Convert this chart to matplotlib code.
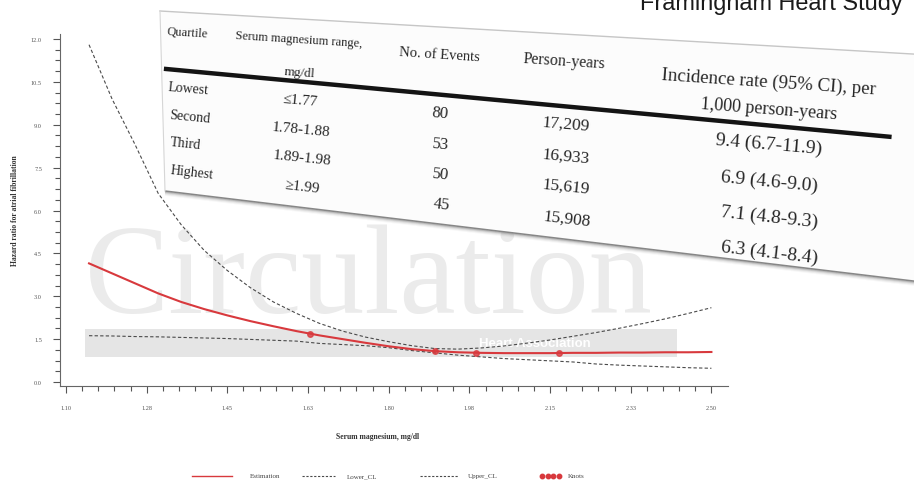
import numpy as np
import matplotlib
matplotlib.use("Agg")
import matplotlib.pyplot as plt
from matplotlib.patches import Polygon, Rectangle
from matplotlib.ticker import FixedLocator, MultipleLocator

# Spline estimate of the hazard ratio for atrial fibrillation by serum magnesium
mg = [1.15, 1.20, 1.25, 1.30, 1.35, 1.40, 1.45, 1.50, 1.55, 1.60, 1.65, 1.70, 1.75,
      1.80, 1.85, 1.90, 1.95, 2.00, 2.05, 2.10, 2.15, 2.20, 2.25, 2.30, 2.35, 2.40,
      2.45, 2.50]
hr_est = [4.15, 3.80, 3.45, 3.10, 2.80, 2.55, 2.33, 2.13, 1.95, 1.78, 1.63, 1.50, 1.37,
          1.25, 1.15, 1.08, 1.04, 1.02, 1.01, 1.01, 1.01, 1.02, 1.02, 1.03, 1.03, 1.04,
          1.04, 1.05]
hr_lower = [1.62, 1.61, 1.59, 1.58, 1.56, 1.54, 1.52, 1.49, 1.46, 1.43, 1.35, 1.31, 1.27,
            1.20, 1.10, 1.02, 0.94, 0.88, 0.82, 0.78, 0.74, 0.70, 0.63, 0.59, 0.56, 0.53,
            0.50, 0.48]
hr_upper = [11.8, 9.9, 8.3, 6.6, 5.5, 4.6, 3.9, 3.3, 2.8, 2.4, 2.05, 1.78, 1.57,
            1.41, 1.27, 1.17, 1.15, 1.19, 1.26, 1.36, 1.47, 1.60, 1.73, 1.88, 2.04, 2.21,
            2.40, 2.60]
knot_mg = [1.63, 1.90, 1.99, 2.17]
knot_hr = [1.69, 1.08, 1.02, 1.01]

x_ticks = [1.10, 1.275, 1.45, 1.625, 1.80, 1.975, 2.15, 2.325, 2.50]
x_tick_labels = ["1.10", "1.28", "1.45", "1.63", "1.80", "1.98", "2.15", "2.33", "2.50"]
y_ticks = [0.0, 1.5, 3.0, 4.5, 6.0, 7.5, 9.0, 10.5, 12.0]
y_tick_labels = ["0.0", "1.5", "3.0", "4.5", "6.0", "7.5", "9.0", "10.5", "12.0"]
legend_labels = ["Estimation", "Lower_CL", "Upper_CL", "Knots"]

# Quartile table
table_headers = ["Quartile", "Serum magnesium range,\nmg/dl", "No. of Events",
                 "Person-years", "Incidence rate (95% CI), per\n1,000 person-years"]
quartiles = ["Lowest", "Second", "Third", "Highest"]
mg_ranges = ["\u22641.77", "1.78-1.88", "1.89-1.98", "\u22651.99"]
af_events = [80, 53, 50, 45]
person_years = [17209, 16933, 15619, 15908]
incidence = [9.4, 6.9, 7.1, 6.3]
incidence_lo = [6.7, 4.6, 4.8, 4.1]
incidence_hi = [11.9, 9.0, 9.3, 8.4]

RED = "#d8393d"
CL_GRAY = "#4a4a4a"
SERIF = ["Liberation Serif", "DejaVu Serif"]
W, H = 914, 485

fig = plt.figure(figsize=(W / 100, H / 100), dpi=100)
fig.patch.set_facecolor("white")

# background layer (journal watermark) in pixel coordinates
bg = fig.add_axes([0, 0, 1, 1], zorder=0)
bg.set_xlim(0, W)
bg.set_ylim(H, 0)
bg.axis("off")
bg.text(85, 313, "Circulation", fontsize=91, family=SERIF, color="#ebebeb",
        ha="left", va="baseline")
bg.add_patch(Rectangle((85, 330), 592, 28, facecolor="#e5e5e5", edgecolor="none"))
bg.text(535, 344, "Heart Association", color="white", fontsize=9.5,
        fontweight="bold", family="Liberation Sans", ha="center", va="center")

# main chart
left, right, bottom, top = 60, 728, 387, 35
ax = fig.add_axes([left / W, (H - bottom) / H, (right - left) / W, (bottom - top) / H],
                  zorder=1)
ax.patch.set_alpha(0)
ax.plot(mg, hr_upper, color=CL_GRAY, lw=0.8, ls=(0, (3, 2)))
ax.plot(mg, hr_lower, color=CL_GRAY, lw=0.8, ls=(0, (3, 2)))
ax.plot(mg, hr_est, color=RED, lw=1.5)
ax.plot(knot_mg, knot_hr, "o", color=RED, ms=4, alpha=0.8)

ax.set_xlim(1.087, 2.536)
ax.set_ylim(-0.14, 12.175)
for s in ("top", "right"):
    ax.spines[s].set_visible(False)
for s in ("left", "bottom"):
    ax.spines[s].set_color("#666666")
    ax.spines[s].set_linewidth(0.8)

ax.set_xticks(x_ticks)
ax.set_xticklabels(x_tick_labels, family=SERIF, fontsize=4.5, color="#555555")
ax.xaxis.set_minor_locator(FixedLocator(np.arange(1.10, 2.52, 0.035)))
ax.set_yticks(y_ticks)
ax.set_yticklabels(y_tick_labels, family=SERIF, fontsize=4.5, color="#555555")
ax.yaxis.set_minor_locator(MultipleLocator(0.375))
ax.tick_params(axis="both", which="major", direction="out", length=5, width=0.8,
               color="#555555")
ax.tick_params(axis="both", which="minor", direction="out", length=3.5, width=0.8,
               color="#555555")
ax.tick_params(axis="x", which="major", pad=9)
ax.tick_params(axis="y", which="major", pad=8)

fig.text(15 / W, 1 - 211 / H, "Hazard ratio for atrial fibrillation", rotation=90,
         fontsize=5.5, fontweight="bold", family=SERIF, color="#333333",
         ha="center", va="center")
fig.text(378 / W, 1 - 437 / H, "Serum magnesium, mg/dl", fontsize=5.5,
         fontweight="bold", family=SERIF, color="#333333", ha="center", va="center")

# overlay layer: legend, title and the quartile table
ov = fig.add_axes([0, 0, 1, 1], zorder=2)
ov.set_xlim(0, W)
ov.set_ylim(H, 0)
ov.axis("off")

ly = 477
lkw = dict(fontsize=5, family=SERIF, color="#444444", va="center", ha="left")
ov.plot([192, 232], [ly, ly], color=RED, lw=1.0)
ov.text(250, ly, legend_labels[0], **lkw)
ov.plot([302, 335], [ly, ly], color=CL_GRAY, lw=0.8, ls=(0, (2, 1.5)))
ov.text(347, ly, legend_labels[1], **lkw)
ov.plot([420, 458], [ly, ly], color=CL_GRAY, lw=0.8, ls=(0, (2, 1.5)))
ov.text(468, ly, legend_labels[2], **lkw)
ov.plot(np.linspace(542, 559, 4), [ly] * 4, "o", color=RED, ms=3.2)
ov.text(568, ly, legend_labels[3], **lkw)

ov.text(903, 10, "Framingham Heart Study", ha="right", va="baseline", fontsize=16.9,
        family="Liberation Sans", color="#1a1a1a")

# table sheet, seen in perspective
TL = np.array([160.0, 12.0])
TR = np.array([930.0, 56.0])
BL = np.array([165.0, 192.0])
BR = np.array([930.0, 284.0])


def sheet(u, v):
    return (1 - v) * ((1 - u) * TL + u * TR) + v * ((1 - u) * BL + u * BR)


ov.add_patch(Polygon([TL, TR, BR, BL], closed=True, facecolor="#fcfcfc",
                     edgecolor="none", zorder=2))
for i, a in enumerate([0.9, 0.45, 0.25, 0.12, 0.06]):
    ov.plot([BL[0], BR[0]], [BL[1] + i, BR[1] + i], color="#7c7c7c", alpha=a, lw=1.1,
            zorder=2.1, solid_capstyle="butt")
ov.plot([TL[0], TR[0]], [TL[1], TR[1]], color="#c6c6c6", lw=1.0, zorder=2.1)
ov.plot([TL[0], BL[0]], [TL[1], BL[1]], color="#d6d6d6", lw=0.8, zorder=2.1)

r0 = sheet(0.003, 0.32)
r1 = sheet(0.95, 0.373)
ov.plot([r0[0], r1[0]], [r0[1], r1[1]], color="#141414", lw=3.2, zorder=2.2,
        solid_capstyle="butt")


def put(u, v, s, size, ha="center"):
    x, y = sheet(u, v)
    d = sheet(u + 0.01, v) - sheet(u, v)
    ang = -np.degrees(np.arctan2(d[1], d[0]))
    ov.text(x, y, s, fontsize=size, rotation=ang, rotation_mode="anchor", ha=ha,
            va="center", family=SERIF, color="#262626", zorder=3)


rows_v = [0.425, 0.58, 0.73, 0.885]
rows_v_rate = [0.45, 0.62, 0.785, 0.945]

# column 1
put(0.008, 0.108, table_headers[0], 9, ha="left")
for v, q in zip(rows_v, quartiles):
    put(0.008, v - 0.01, q, 10, ha="left")
# column 2
h2a, h2b = table_headers[1].split("\n")
put(0.18, 0.106, h2a, 9)
put(0.18, 0.28, h2b, 9.5)
for v, r in zip(rows_v, mg_ranges):
    put(0.18, v + 0.005, r, 11)
# column 3
put(0.362, 0.137, table_headers[2], 10.5)
for v, n in zip(rows_v, af_events):
    put(0.362, v + 0.012, f"{n}", 12)
# column 4
put(0.525, 0.13, table_headers[3], 11.5)
for v, p in zip(rows_v, person_years):
    put(0.525, v + 0.012, f"{p:,}", 12.5)
# column 5
h5a, h5b = table_headers[4].split("\n")
put(0.79, 0.165, h5a, 13.5)
put(0.79, 0.29, h5b, 13)
for v, r, lo, hi in zip(rows_v_rate, incidence, incidence_lo, incidence_hi):
    put(0.79, v, f"{r:.1f} ({lo:.1f}-{hi:.1f})", 14)

fig.savefig("out.png", dpi=100, facecolor="white")
